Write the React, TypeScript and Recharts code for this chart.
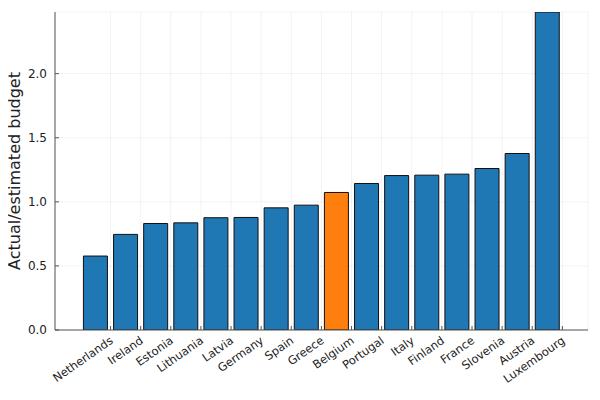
import { BarChart, Bar, Cell, XAxis, YAxis, CartesianGrid } from "recharts"

const countries = [
  "Netherlands",
  "Ireland",
  "Estonia",
  "Lithuania",
  "Latvia",
  "Germany",
  "Spain",
  "Greece",
  "Belgium",
  "Portugal",
  "Italy",
  "Finland",
  "France",
  "Slovenia",
  "Austria",
  "Luxembourg",
]

const ratios = [
  0.577, 0.746, 0.831, 0.836, 0.876, 0.878, 0.953, 0.974, 1.073, 1.143, 1.205,
  1.208, 1.216, 1.26, 1.377, 2.481,
]

const highlight = "Belgium"
const yTicks = [0, 0.5, 1.0, 1.5, 2.0]
const xTicks = countries.map((_, i) => i + 0.5)
const yTitle = "Actual/estimated budget"

const data = countries.map((name, i) => ({ x: i, name, value: ratios[i] }))

const FONT = "DejaVu Sans"
const AXIS = "#555"

function XTick(props: any) {
  const { x, y, payload } = props
  const label = countries[Math.floor(payload.value)]
  return (
    <g>
      <line x1={x} y1={y} x2={x} y2={y - 4} stroke={AXIS} strokeWidth={1} />
      <text
        x={x + 1}
        y={y + 9}
        textAnchor="end"
        dominantBaseline="central"
        transform={`rotate(-35, ${x + 1}, ${y + 9})`}
        fontFamily={FONT}
        fontSize={11.5}
        fill="#222"
      >
        {label}
      </text>
    </g>
  )
}

function YTick(props: any) {
  const { x, y, payload } = props
  return (
    <g>
      <line x1={x} y1={y} x2={x + 4} y2={y} stroke={AXIS} strokeWidth={1} />
      <text
        x={x - 8}
        y={y}
        textAnchor="end"
        dominantBaseline="central"
        fontFamily={FONT}
        fontSize={12}
        fill="#222"
      >
        {payload.value.toFixed(1)}
      </text>
    </g>
  )
}

export default function App() {
  return (
    <div style={{ margin: "-8px 0 0 -8px", position: "relative", width: 600, height: 400 }}>
      <BarChart
        width={600}
        height={400}
        data={data}
        margin={{ top: 12, right: 12, bottom: 10, left: 0 }}
      >
        <CartesianGrid stroke="#000" strokeOpacity={0.1} strokeWidth={0.5} />
        <XAxis
          dataKey="x"
          type="number"
          domain={[-1.344, 16.35]}
          ticks={xTicks}
          allowDataOverflow
          interval={0}
          height={60}
          tickSize={0}
          tickMargin={0}
          tickLine={false}
          tick={<XTick />}
          stroke={AXIS}
        />
        <YAxis
          type="number"
          domain={[0, 2.481]}
          ticks={yTicks}
          allowDataOverflow
          width={55}
          tickSize={0}
          tickMargin={0}
          tickLine={false}
          tick={<YTick />}
          stroke={AXIS}
        />
        <Bar dataKey="value" barSize={24} stroke="#111" strokeWidth={1} isAnimationActive={false}>
          {data.map((d, i) => (
            <Cell key={`cell-${i}`} fill={d.name === highlight ? "#ff7f0e" : "#1f77b4"} />
          ))}
        </Bar>
      </BarChart>
      <svg
        width={600}
        height={400}
        style={{ position: "absolute", left: 0, top: 0, pointerEvents: "none" }}
      >
        <text
          x={20}
          y={171}
          transform="rotate(-90, 20, 171)"
          textAnchor="middle"
          fontFamily={FONT}
          fontSize={16}
          fill="#222"
        >
          {yTitle}
        </text>
      </svg>
    </div>
  )
}
